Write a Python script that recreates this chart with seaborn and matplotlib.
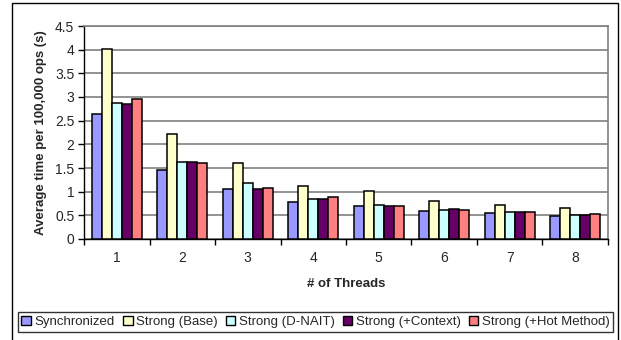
import matplotlib
matplotlib.use("Agg")
import matplotlib.pyplot as plt
import seaborn as sns
import pandas as pd
import numpy as np
from matplotlib.patches import Rectangle, Patch

threads = ["1", "2", "3", "4", "5", "6", "7", "8"]
series = ["Synchronized", "Strong (Base)", "Strong (D-NAIT)",
          "Strong (+Context)", "Strong (+Hot Method)"]
synchronized = [2.65, 1.45, 1.06, 0.79, 0.70, 0.60, 0.54, 0.49]
strong_base = [4.01, 2.21, 1.61, 1.11, 1.01, 0.80, 0.71, 0.65]
strong_dnait = [2.87, 1.63, 1.19, 0.84, 0.72, 0.62, 0.56, 0.51]
strong_context = [2.85, 1.63, 1.06, 0.84, 0.70, 0.63, 0.57, 0.51]
strong_hot = [2.96, 1.61, 1.08, 0.89, 0.70, 0.62, 0.58, 0.52]
colors = ["#9999FF", "#FFFFCC", "#CCFFFF", "#660066", "#FF8080"]

values = [synchronized, strong_base, strong_dnait, strong_context, strong_hot]
df = pd.DataFrame({
    "threads": threads * len(series),
    "series": np.repeat(series, len(threads)),
    "time": np.concatenate(values),
})

sns.set_theme(style="white")
plt.rcParams["font.family"] = ["Liberation Sans", "DejaVu Sans"]

fig = plt.figure(figsize=(6.21, 3.40), dpi=100)
ax = fig.add_axes([84 / 621, 1 - 239 / 340, (608 - 84) / 621, (239 - 26) / 340])

sns.barplot(data=df, x="threads", y="time", hue="series", hue_order=series,
            order=threads, palette=colors, width=0.76, edgecolor="black",
            linewidth=1.1, saturation=1, ax=ax, legend=False, zorder=3)

ax.set_ylim(0, 4.5)
ax.set_xlim(-0.5, len(threads) - 0.5)
yt = np.arange(0, 4.51, 0.5)
ax.set_yticks(yt)
ax.set_yticklabels([f"{v:g}" for v in yt], fontsize=10)
ax.yaxis.grid(True, color="#808080", linewidth=1.2, zorder=0)
ax.set_axisbelow(True)

# category boundaries carry the tick marks, labels sit at the centres
ax.set_xticks(np.arange(len(threads)))
ax.set_xticklabels(threads, fontsize=10)
ax.tick_params(axis="x", which="major", length=0, pad=9)
ax.set_xticks(np.arange(-0.5, len(threads)), minor=True)
ax.tick_params(axis="x", which="minor", length=4, width=1, color="black",
               direction="out", bottom=True)
ax.tick_params(axis="y", length=4, width=1, color="black", direction="out",
               left=True, pad=3)

for side in ["left", "bottom"]:
    ax.spines[side].set_color("black")
    ax.spines[side].set_linewidth(1)
for side in ["top", "right"]:
    ax.spines[side].set_color("#808080")
    ax.spines[side].set_linewidth(1.2)

ax.set_xlabel("# of Threads", fontsize=9.5, fontweight="bold", labelpad=9)
ax.set_ylabel("Average time per 100,000 ops (s)", fontsize=9.5,
              fontweight="bold", labelpad=6)

handles = [Patch(facecolor=c, edgecolor="black", linewidth=1) for c in colors]
leg = fig.legend(handles, series, loc="center", ncol=5,
                 bbox_to_anchor=(315.5 / 621, 1 - 322 / 340),
                 fontsize=9.5, frameon=True, fancybox=False,
                 handlelength=0.75, handleheight=0.75, handletextpad=0.25,
                 columnspacing=0.6, borderpad=0.25, borderaxespad=0)
leg.get_frame().set_edgecolor("black")
leg.get_frame().set_linewidth(1)

# outer chart border
fig.patches.append(Rectangle((12 / 621, -0.05), (618 - 12) / 621, 1.05 - 3 / 340,
                             transform=fig.transFigure, fill=False,
                             edgecolor="black", linewidth=1))

fig.savefig("out.png", dpi=100)
